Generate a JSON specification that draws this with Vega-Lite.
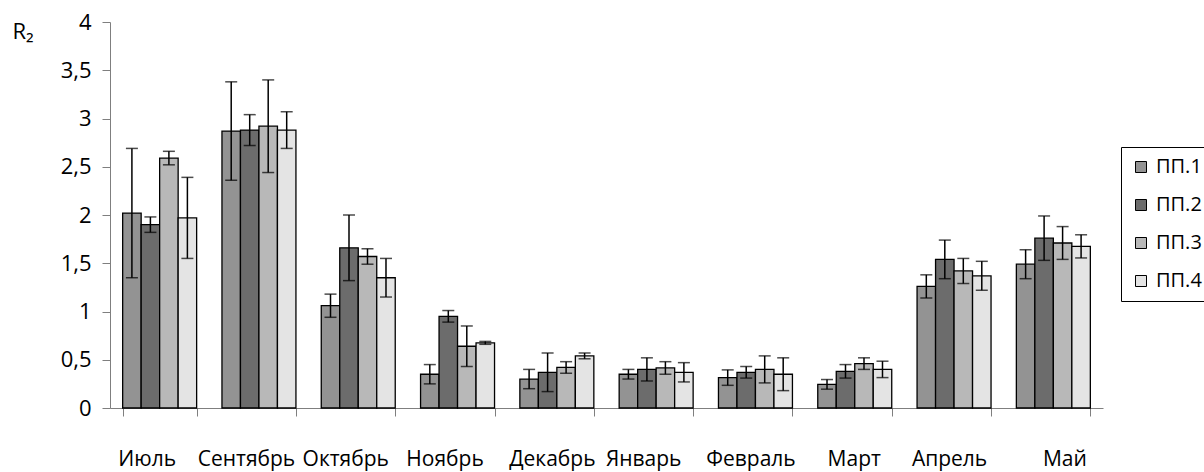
{
  "$schema": "https://vega.github.io/schema/vega-lite/v6.json",
  "autosize": "none",
  "padding": {"left": 110, "top": 22, "right": 101, "bottom": 64},
  "width": 993,
  "height": 386,
  "config": {
    "font": "Open Sans",
    "view": {"stroke": null},
    "locale": {"number": {"decimal": ",", "thousands": "\u00a0", "grouping": [3], "currency": ["", ""]}},
    "axis": {"grid": false, "domainColor": "#7f7f7f", "tickColor": "#7f7f7f", "labelColor": "#000000", "titleColor": "#000000", "labelFont": "Open Sans", "titleFont": "Open Sans"}
  },
  "data": {
    "values": [
      {"month": "Июль", "series": "ПП.1", "value": 2.02, "lo": 1.35, "hi": 2.69},
      {"month": "Июль", "series": "ПП.2", "value": 1.90, "lo": 1.82, "hi": 1.98},
      {"month": "Июль", "series": "ПП.3", "value": 2.59, "lo": 2.52, "hi": 2.66},
      {"month": "Июль", "series": "ПП.4", "value": 1.97, "lo": 1.55, "hi": 2.39},
      {"month": "Сентябрь", "series": "ПП.1", "value": 2.87, "lo": 2.36, "hi": 3.38},
      {"month": "Сентябрь", "series": "ПП.2", "value": 2.88, "lo": 2.72, "hi": 3.04},
      {"month": "Сентябрь", "series": "ПП.3", "value": 2.92, "lo": 2.44, "hi": 3.40},
      {"month": "Сентябрь", "series": "ПП.4", "value": 2.88, "lo": 2.69, "hi": 3.07},
      {"month": "Октябрь", "series": "ПП.1", "value": 1.06, "lo": 0.94, "hi": 1.18},
      {"month": "Октябрь", "series": "ПП.2", "value": 1.66, "lo": 1.32, "hi": 2.00},
      {"month": "Октябрь", "series": "ПП.3", "value": 1.57, "lo": 1.49, "hi": 1.65},
      {"month": "Октябрь", "series": "ПП.4", "value": 1.35, "lo": 1.15, "hi": 1.55},
      {"month": "Ноябрь", "series": "ПП.1", "value": 0.35, "lo": 0.25, "hi": 0.45},
      {"month": "Ноябрь", "series": "ПП.2", "value": 0.95, "lo": 0.89, "hi": 1.01},
      {"month": "Ноябрь", "series": "ПП.3", "value": 0.64, "lo": 0.43, "hi": 0.85},
      {"month": "Ноябрь", "series": "ПП.4", "value": 0.675, "lo": 0.66, "hi": 0.69},
      {"month": "Декабрь", "series": "ПП.1", "value": 0.30, "lo": 0.20, "hi": 0.40},
      {"month": "Декабрь", "series": "ПП.2", "value": 0.37, "lo": 0.17, "hi": 0.57},
      {"month": "Декабрь", "series": "ПП.3", "value": 0.42, "lo": 0.36, "hi": 0.48},
      {"month": "Декабрь", "series": "ПП.4", "value": 0.54, "lo": 0.51, "hi": 0.57},
      {"month": "Январь", "series": "ПП.1", "value": 0.35, "lo": 0.30, "hi": 0.40},
      {"month": "Январь", "series": "ПП.2", "value": 0.40, "lo": 0.28, "hi": 0.52},
      {"month": "Январь", "series": "ПП.3", "value": 0.415, "lo": 0.35, "hi": 0.48},
      {"month": "Январь", "series": "ПП.4", "value": 0.37, "lo": 0.27, "hi": 0.47},
      {"month": "Февраль", "series": "ПП.1", "value": 0.315, "lo": 0.235, "hi": 0.395},
      {"month": "Февраль", "series": "ПП.2", "value": 0.37, "lo": 0.31, "hi": 0.43},
      {"month": "Февраль", "series": "ПП.3", "value": 0.40, "lo": 0.26, "hi": 0.54},
      {"month": "Февраль", "series": "ПП.4", "value": 0.35, "lo": 0.18, "hi": 0.52},
      {"month": "Март", "series": "ПП.1", "value": 0.245, "lo": 0.195, "hi": 0.295},
      {"month": "Март", "series": "ПП.2", "value": 0.38, "lo": 0.31, "hi": 0.45},
      {"month": "Март", "series": "ПП.3", "value": 0.46, "lo": 0.40, "hi": 0.52},
      {"month": "Март", "series": "ПП.4", "value": 0.40, "lo": 0.315, "hi": 0.485},
      {"month": "Апрель", "series": "ПП.1", "value": 1.26, "lo": 1.14, "hi": 1.38},
      {"month": "Апрель", "series": "ПП.2", "value": 1.54, "lo": 1.34, "hi": 1.74},
      {"month": "Апрель", "series": "ПП.3", "value": 1.42, "lo": 1.29, "hi": 1.55},
      {"month": "Апрель", "series": "ПП.4", "value": 1.37, "lo": 1.22, "hi": 1.52},
      {"month": "Май", "series": "ПП.1", "value": 1.49, "lo": 1.34, "hi": 1.64},
      {"month": "Май", "series": "ПП.2", "value": 1.76, "lo": 1.53, "hi": 1.99},
      {"month": "Май", "series": "ПП.3", "value": 1.71, "lo": 1.54, "hi": 1.88},
      {"month": "Май", "series": "ПП.4", "value": 1.675, "lo": 1.555, "hi": 1.795}
    ]
  },
  "encoding": {
    "x": {
      "field": "month",
      "type": "nominal",
      "sort": null,
      "scale": {"paddingInner": 0.255, "paddingOuter": 0.1275},
      "axis": {
        "title": null,
        "labelAngle": 0,
        "labelFontSize": 21,
        "labelBaseline": "alphabetic",
        "labelPadding": 49,
        "tickBand": "extent",
        "tickSize": 8,
        "labelOffset": {
          "condition": [
            {"test": "datum.label == 'Май'", "value": 11},
            {"test": "datum.label == 'Март'", "value": -1},
            {"test": "indexof(['Декабрь', 'Февраль', 'Апрель'], datum.label) >= 0", "value": -5}
          ],
          "value": -13
        }
      }
    },
    "xOffset": {"field": "series", "type": "nominal", "scale": {"paddingInner": 0, "paddingOuter": 0}}
  },
  "layer": [
    {
      "mark": {"type": "bar", "stroke": "#000000", "strokeWidth": 1.3},
      "encoding": {
        "y": {
          "field": "value",
          "type": "quantitative",
          "scale": {"domain": [0, 4], "nice": false},
          "axis": {
            "values": [0, 0.5, 1, 1.5, 2, 2.5, 3, 3.5, 4],
            "format": "~g",
            "labelFontSize": 22,
            "labelPadding": 11,
            "tickSize": 8,
            "title": "R₂",
            "titleFontSize": 22,
            "titleFontWeight": "normal",
            "titleAngle": 0,
            "titleAlign": "left",
            "titleBaseline": "alphabetic",
            "titleX": -98,
            "titleY": 16
          }
        },
        "fill": {
          "field": "series",
          "type": "nominal",
          "scale": {"domain": ["ПП.1", "ПП.2", "ПП.3", "ПП.4"], "range": ["#939393", "#6c6c6c", "#b8b8b8", "#e4e4e4"]},
          "legend": {
            "title": null,
            "orient": "none",
            "legendX": 1011,
            "legendY": 125,
            "strokeColor": "#000000",
            "padding": 10,
            "symbolType": "square",
            "symbolSize": 121,
            "symbolStrokeColor": "#000000",
            "symbolStrokeWidth": 1,
            "labelFontSize": 20,
            "labelFont": "Open Sans",
            "labelColor": "#000000",
            "labelOffset": 5,
            "rowPadding": 18
          }
        }
      }
    },
    {
      "mark": {"type": "rule", "color": "#000000", "strokeWidth": 1.5},
      "encoding": {
        "y": {"field": "lo", "type": "quantitative"},
        "y2": {"field": "hi"}
      }
    },
    {
      "mark": {"type": "tick", "color": "#000000", "size": 12, "thickness": 1.5},
      "encoding": {"y": {"field": "lo", "type": "quantitative"}}
    },
    {
      "mark": {"type": "tick", "color": "#000000", "size": 12, "thickness": 1.5},
      "encoding": {"y": {"field": "hi", "type": "quantitative"}}
    }
  ]
}
